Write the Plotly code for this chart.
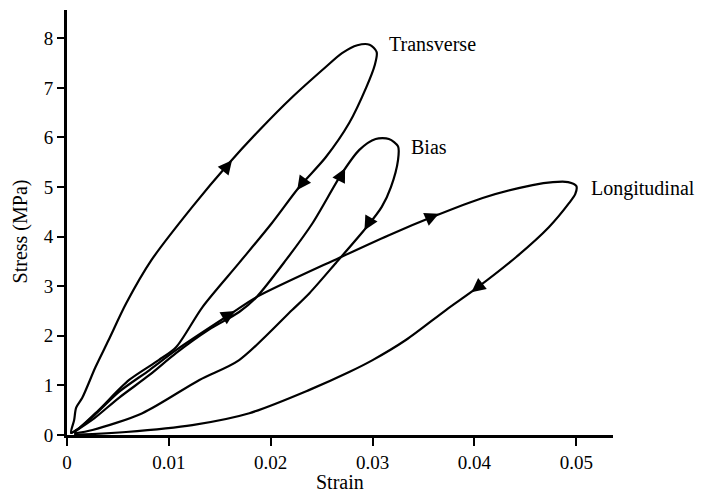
import plotly.graph_objects as go

# ---- data (strain, stress in MPa); each loop = loading branch then unloading branch ----
trans_x = [0.0004, 0.0007, 0.0009, 0.0015, 0.0028, 0.0041, 0.0058, 0.0083, 0.0123, 0.0159, 0.0189, 0.0221,
           0.0254, 0.0270, 0.0285, 0.0297, 0.0304, 0.0302, 0.0294, 0.0277, 0.0254, 0.0228, 0.0201, 0.0169,
           0.0133, 0.0107, 0.0090, 0.0061, 0.0031, 0.0012, 0.0004]
trans_y = [0.04, 0.30, 0.55, 0.75, 1.37, 1.92, 2.65, 3.53, 4.60, 5.48, 6.15, 6.81,
           7.42, 7.70, 7.86, 7.87, 7.72, 7.45, 7.02, 6.29, 5.60, 5.00, 4.27, 3.47,
           2.58, 1.77, 1.51, 1.11, 0.50, 0.14, 0.04]

bias_x = [0.0007, 0.0027, 0.0051, 0.0081, 0.0107, 0.0139, 0.0169, 0.0186, 0.0215, 0.0241, 0.0270, 0.0287,
          0.0303, 0.0316, 0.0325, 0.0325, 0.0318, 0.0309, 0.0294, 0.0264, 0.0238, 0.0221, 0.0169, 0.0130,
          0.0074, 0.0025, 0.0007]
bias_y = [0.06, 0.34, 0.75, 1.21, 1.65, 2.12, 2.48, 2.78, 3.53, 4.27, 5.28, 5.75,
          5.97, 5.97, 5.82, 5.55, 5.00, 4.60, 4.19, 3.47, 2.86, 2.52, 1.51, 1.11,
          0.44, 0.10, 0.03]

long_x = [0.0004, 0.0012, 0.0027, 0.0051, 0.0081, 0.0107, 0.0162, 0.0186, 0.0267, 0.0316, 0.0359, 0.0408,
          0.0457, 0.0477, 0.0492, 0.0500, 0.0499, 0.0493, 0.0473, 0.0441, 0.0402, 0.0372, 0.0333, 0.0300,
          0.0277, 0.0238, 0.0179, 0.0123, 0.0058, 0.0025, 0.0007]
long_y = [0.04, 0.14, 0.40, 0.87, 1.31, 1.71, 2.46, 2.78, 3.57, 4.03, 4.40, 4.78,
          5.04, 5.10, 5.10, 5.02, 4.86, 4.68, 4.19, 3.59, 2.96, 2.52, 1.92, 1.51,
          1.27, 0.91, 0.44, 0.20, 0.06, 0.02, 0.01]

# arrows: (tip x, tip y, tail x, tail y)
arrows = [
    (0.0162, 5.54, 0.0154, 5.34),
    (0.0226, 4.94, 0.0233, 5.14),
    (0.0273, 5.38, 0.0267, 5.14),
    (0.0292, 4.13, 0.0299, 4.38),
    (0.0365, 4.46, 0.0356, 4.38),
    (0.0397, 2.88, 0.0407, 3.04),
    (0.0165, 2.50, 0.0157, 2.40),
]

labels = ["Transverse", "Bias", "Longitudinal"]
label_x = [0.0314, 0.0336, 0.0512]
label_y = [7.88, 5.80, 4.98]

x_ticks = [0, 0.01, 0.02, 0.03, 0.04, 0.05]
x_ticktext = ["0", "0.01", "0.02", "0.03", "0.04", "0.05"]
y_ticks = [0, 1, 2, 3, 4, 5, 6, 7, 8]

FONT = "Liberation Serif, Times New Roman, serif"

fig = go.Figure()
for xs, ys in [(trans_x, trans_y), (bias_x, bias_y), (long_x, long_y)]:
    fig.add_trace(go.Scatter(x=xs, y=ys, mode="lines",
                             line=dict(color="black", width=2.2, shape="spline", smoothing=0.8),
                             showlegend=False, hoverinfo="skip"))

for tx, ty, sx, sy in arrows:
    fig.add_annotation(x=tx, y=ty, ax=sx, ay=sy, xref="x", yref="y", axref="x", ayref="y",
                       showarrow=True, arrowhead=2, arrowsize=1.4, arrowwidth=2,
                       arrowcolor="black", text="", standoff=0)

for t, lx, ly in zip(labels, label_x, label_y):
    fig.add_annotation(x=lx, y=ly, text=t, showarrow=False, xanchor="left", yanchor="middle",
                       font=dict(family=FONT, size=20, color="black"))

# axis titles
fig.add_annotation(x=-0.085, y=0.478, xref="paper", yref="paper", text="Stress (MPa)",
                   textangle=-90, showarrow=False, xanchor="center", yanchor="middle",
                   font=dict(family=FONT, size=20, color="black"))
fig.add_annotation(x=0.5, y=-0.111, xref="paper", yref="paper", text="Strain",
                   showarrow=False, xanchor="center", yanchor="middle",
                   font=dict(family=FONT, size=20, color="black"))

# page body has an 8px default margin, so the figure is 8px smaller and shifted
fig.update_layout(
    width=701, height=486,
    margin=dict(l=59, r=96, t=2, b=59),
    paper_bgcolor="white", plot_bgcolor="white",
    font=dict(family=FONT, size=19, color="black"),
    xaxis=dict(range=[0, 0.0536], tickvals=x_ticks, ticktext=x_ticktext, automargin=False,
               showgrid=False, zeroline=False, showline=True, linecolor="black", linewidth=3,
               ticks="outside", ticklen=8, tickwidth=2, tickcolor="black"),
    yaxis=dict(range=[0, 8.57], tickvals=y_ticks, automargin=False,
               showgrid=False, zeroline=False, showline=True, linecolor="black", linewidth=3,
               ticks="outside", ticklen=7, tickwidth=2, tickcolor="black"),
)

fig.write_html("out.html")
